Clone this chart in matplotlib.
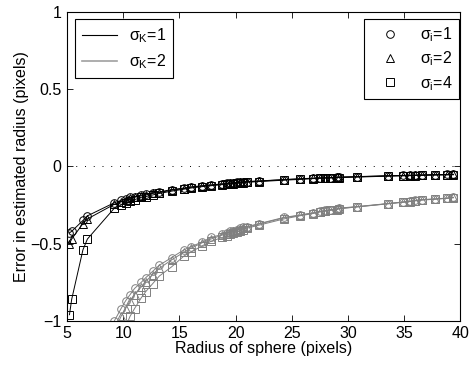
import matplotlib
matplotlib.use("Agg")
import matplotlib.pyplot as plt
from matplotlib.lines import Line2D

plt.rcParams['font.family'] = 'Liberation Sans'
plt.rcParams['mathtext.fontset'] = 'custom'
plt.rcParams['mathtext.rm'] = 'Liberation Sans'
plt.rcParams['mathtext.it'] = 'Liberation Sans'
plt.rcParams['font.size'] = 11.5

# sphere radii (pixels)
radius = [5.2, 5.4, 6.4, 6.8, 9.2, 9.8, 10.2, 10.6, 11.0, 11.6, 12.0, 12.6, 13.2, 14.3,
          15.4, 16.0, 17.0, 17.8, 18.8, 19.2, 19.5, 19.8, 20.1, 20.4, 20.7, 21.0, 22.1,
          24.3, 25.7, 26.9, 27.5, 28.0, 28.4, 29.0, 29.2, 30.8, 33.6, 34.9, 35.5, 36.0,
          36.6, 37.8, 38.8, 39.4]

# sigma_K = 1
k1_i1 = [-0.43, -0.42, -0.35, -0.32, -0.235, -0.22, -0.21, -0.20, -0.195, -0.185, -0.18,
         -0.17, -0.165, -0.15, -0.14, -0.133, -0.125, -0.12, -0.113, -0.11, -0.108, -0.106,
         -0.104, -0.102, -0.10, -0.098, -0.094, -0.085, -0.08, -0.076, -0.074, -0.073,
         -0.072, -0.07, -0.069, -0.066, -0.06, -0.058, -0.057, -0.056, -0.055, -0.053,
         -0.052, -0.051]
k1_i2 = [-0.50, -0.47, -0.37, -0.34, -0.245, -0.23, -0.218, -0.207, -0.20, -0.19, -0.185,
         -0.175, -0.169, -0.154, -0.143, -0.135, -0.127, -0.121, -0.114, -0.111, -0.109,
         -0.107, -0.105, -0.103, -0.101, -0.099, -0.095, -0.086, -0.081, -0.077, -0.075,
         -0.074, -0.073, -0.071, -0.07, -0.067, -0.061, -0.059, -0.058, -0.057, -0.056,
         -0.054, -0.053, -0.052]
k1_i4 = [-0.96, -0.86, -0.54, -0.47, -0.27, -0.25, -0.235, -0.225, -0.215, -0.20, -0.195,
         -0.185, -0.175, -0.16, -0.147, -0.14, -0.131, -0.125, -0.118, -0.115, -0.113,
         -0.111, -0.109, -0.107, -0.105, -0.103, -0.098, -0.089, -0.084, -0.079, -0.077,
         -0.076, -0.075, -0.073, -0.072, -0.069, -0.063, -0.061, -0.06, -0.059, -0.058,
         -0.056, -0.055, -0.054]

# sigma_K = 2
k2_i1 = [-2.0, -1.9, -1.55, -1.45, -1.0, -0.92, -0.87, -0.83, -0.79, -0.75, -0.72, -0.68,
         -0.64, -0.59, -0.54, -0.52, -0.49, -0.46, -0.44, -0.43, -0.42, -0.415, -0.41,
         -0.40, -0.395, -0.39, -0.37, -0.33, -0.315, -0.30, -0.29, -0.285, -0.28, -0.275,
         -0.27, -0.26, -0.24, -0.23, -0.225, -0.22, -0.215, -0.21, -0.205, -0.20]
k2_i2 = [-2.2, -2.1, -1.7, -1.58, -1.07, -0.97, -0.92, -0.87, -0.83, -0.78, -0.745, -0.70,
         -0.66, -0.605, -0.555, -0.53, -0.495, -0.47, -0.445, -0.435, -0.425, -0.42, -0.413,
         -0.405, -0.40, -0.394, -0.373, -0.333, -0.317, -0.302, -0.292, -0.287, -0.282,
         -0.277, -0.272, -0.262, -0.241, -0.231, -0.226, -0.221, -0.216, -0.211, -0.206,
         -0.201]
k2_i4 = [-3.0, -2.8, -2.2, -2.0, -1.25, -1.12, -1.04, -0.97, -0.92, -0.85, -0.81, -0.76,
         -0.71, -0.65, -0.58, -0.555, -0.515, -0.485, -0.46, -0.45, -0.44, -0.43, -0.425,
         -0.415, -0.41, -0.40, -0.38, -0.34, -0.32, -0.305, -0.295, -0.29, -0.285, -0.28,
         -0.275, -0.262, -0.242, -0.232, -0.228, -0.223, -0.218, -0.212, -0.207, -0.203]

fig = plt.figure(figsize=(4.7, 3.74), dpi=100)
ax = fig.add_axes([0.143, 0.142, 0.836, 0.826])

gray = '#808080'
ms = 5.5
series = [(k2_i1, 'o', gray), (k2_i2, '^', gray), (k2_i4, 's', gray),
          (k1_i1, 'o', 'k'), (k1_i2, '^', 'k'), (k1_i4, 's', 'k')]
for ys, mk, col in series:
    ax.plot(radius, ys, color=col, lw=0.7, marker=mk, ms=ms, mfc='none',
            mec=col, mew=0.7)

ax.axhline(0, color='k', ls=(0, (1, 8)), lw=0.7)

ax.set_xlim(5, 40)
ax.set_ylim(-1, 1)
ax.set_xticks([5, 10, 15, 20, 25, 30, 35, 40])
ax.set_yticks([-1, -0.5, 0, 0.5, 1])
ax.set_yticklabels(['\u22121', '\u22120.5', '0', '0.5', '1'])
ax.tick_params(direction='in', top=True, right=True, length=4, width=0.6,
               labelsize=11.5, pad=4)
for s in ax.spines.values():
    s.set_linewidth(0.8)
ax.set_xlabel('Radius of sphere (pixels)', labelpad=0)
ax.set_ylabel('Error in estimated radius (pixels)', labelpad=1)

h1 = [Line2D([], [], color='k', lw=0.8), Line2D([], [], color='#a0a0a0', lw=1.2)]
leg1 = ax.legend(h1, [r'$\sigma_K$=1', r'$\sigma_K$=2'], loc='upper left',
                 bbox_to_anchor=(0.02, 0.977), borderaxespad=0, fancybox=False,
                 edgecolor='k', framealpha=1, handlelength=2.2, borderpad=0.45,
                 labelspacing=0.45, handletextpad=0.7, fontsize=11.5)
leg1.get_frame().set_linewidth(0.8)
ax.add_artist(leg1)

h2 = [Line2D([], [], ls='none', marker=m, color='k', mfc='none', ms=5.5, mew=0.7)
      for m in ['o', '^', 's']]
leg2 = ax.legend(h2, [r'$\sigma_i$=1', r'$\sigma_i$=2', r'$\sigma_i$=4'], loc='upper right',
                 bbox_to_anchor=(0.997, 0.977), borderaxespad=0, fancybox=False,
                 edgecolor='k', framealpha=1, handlelength=2.4, borderpad=0.4,
                 labelspacing=0.35, handletextpad=0.7, fontsize=11.5)
leg2.get_frame().set_linewidth(0.8)

fig.savefig('out.png', dpi=100)
